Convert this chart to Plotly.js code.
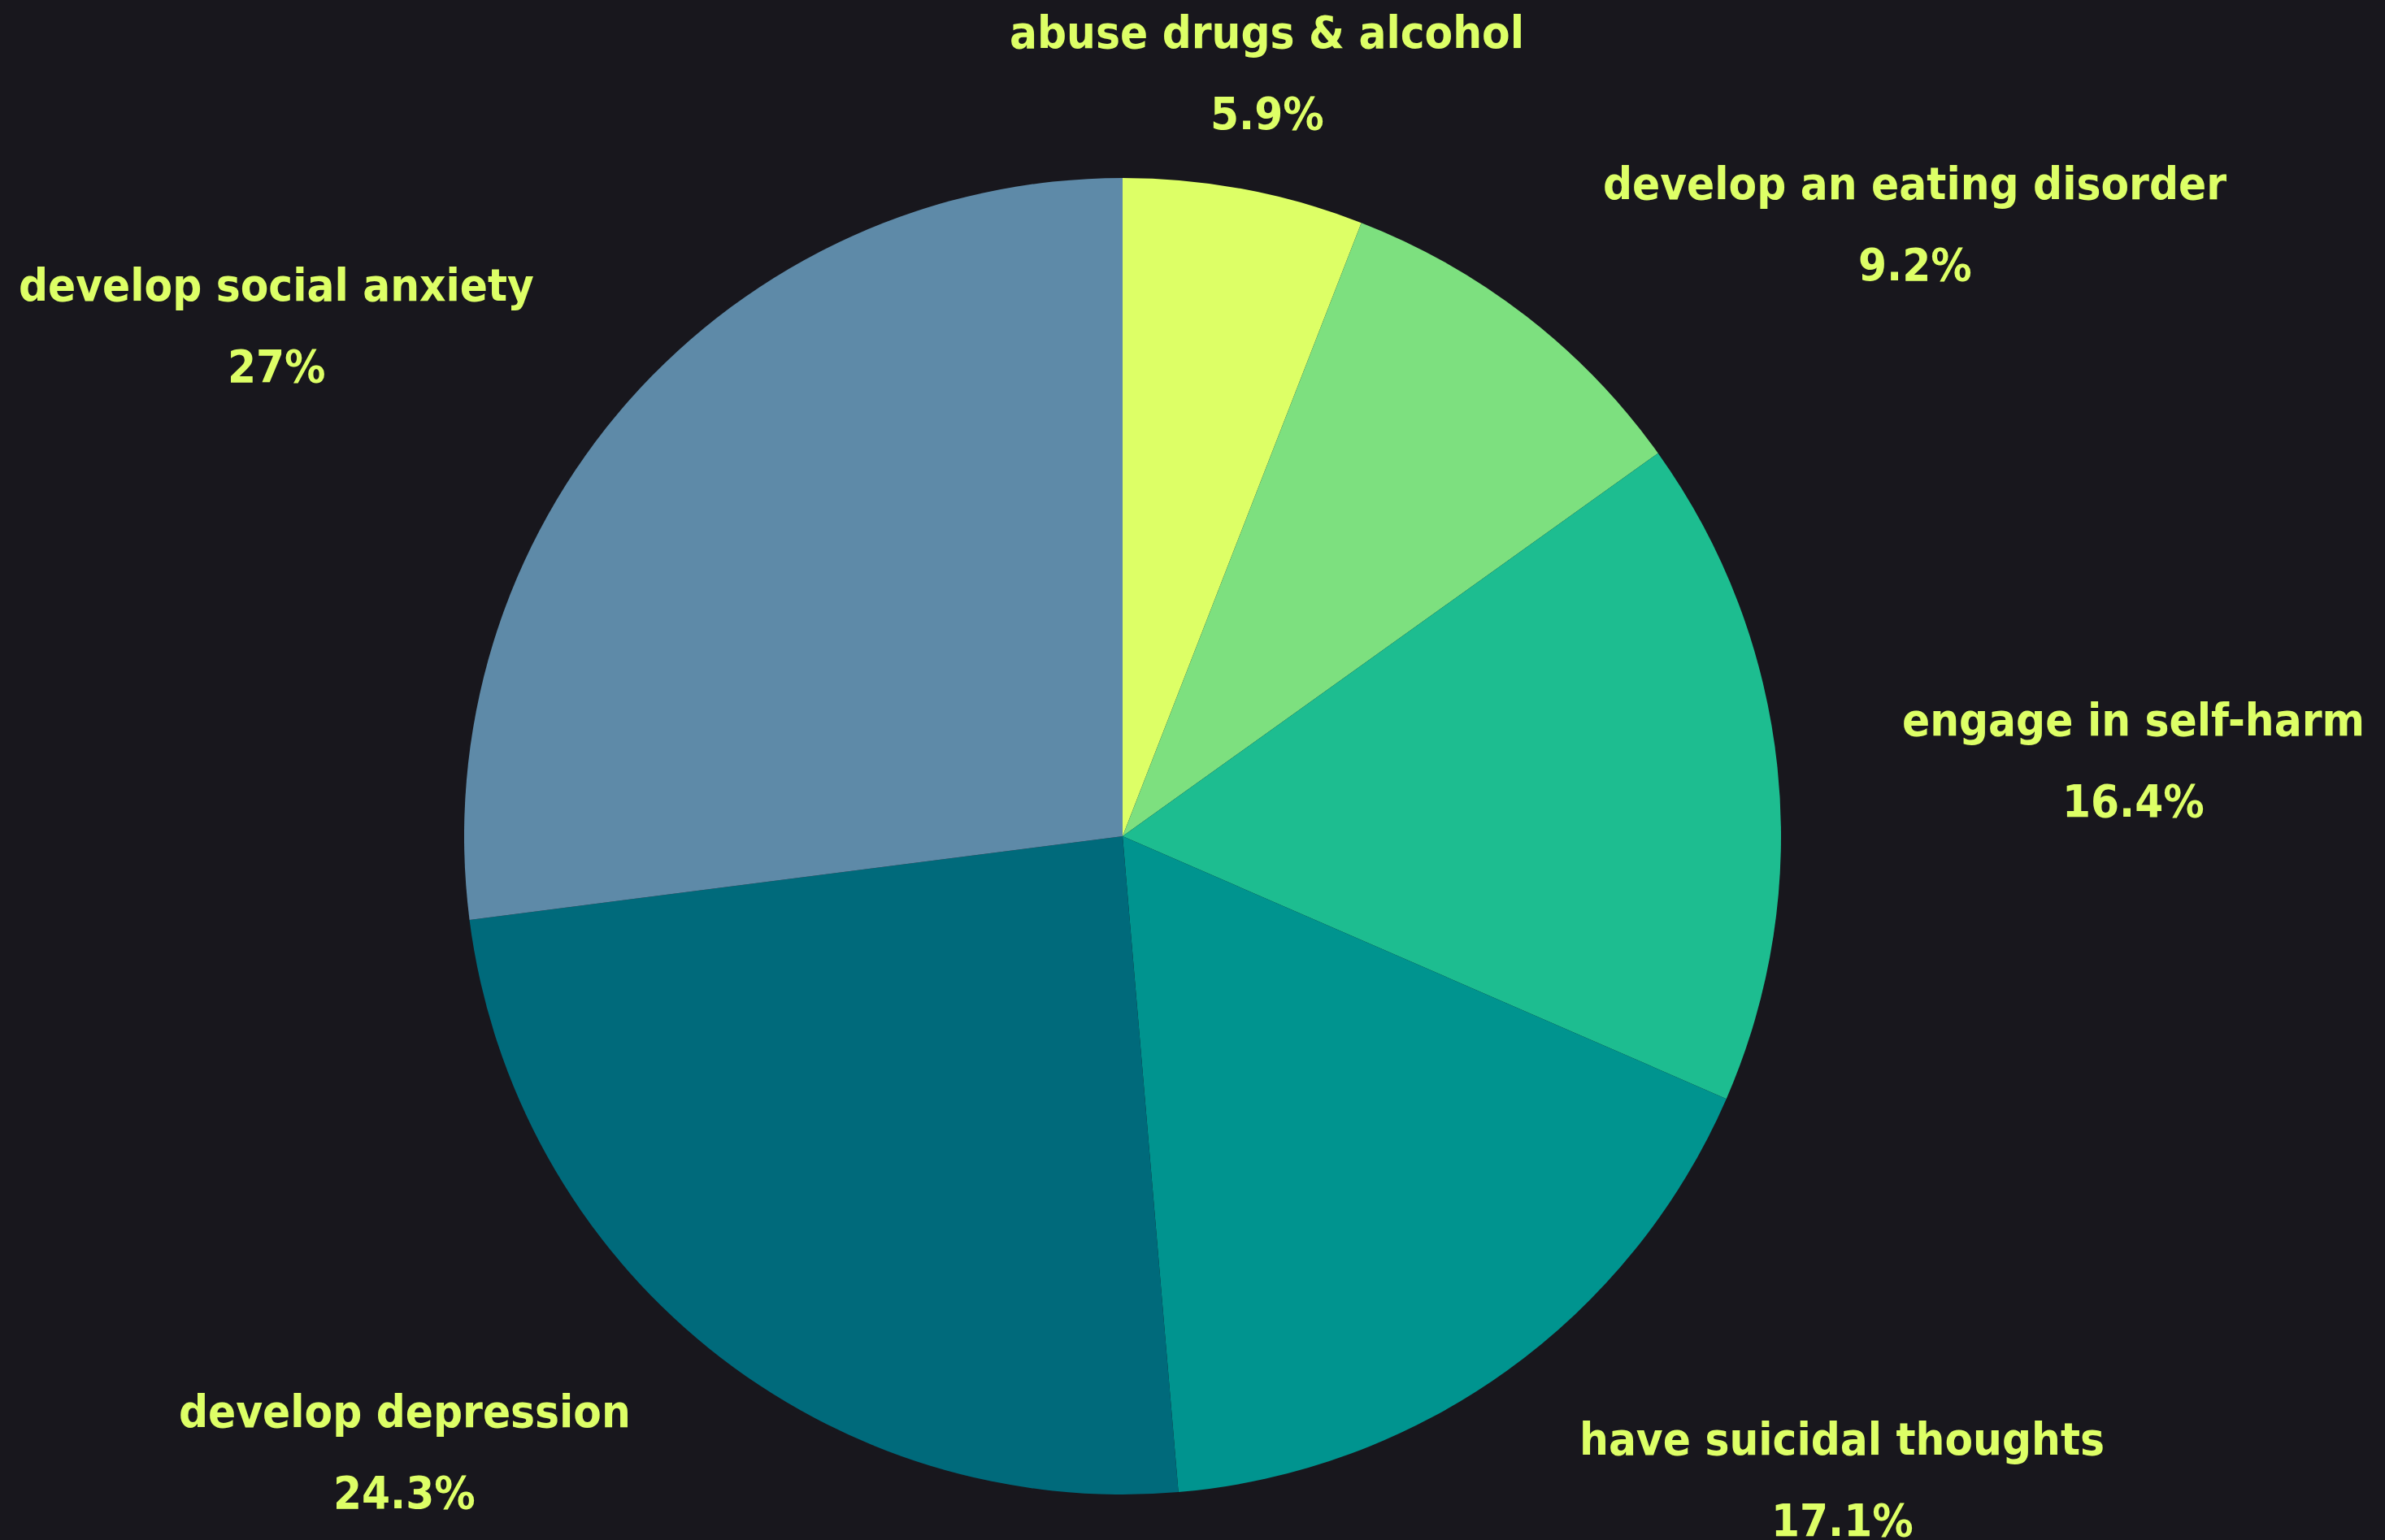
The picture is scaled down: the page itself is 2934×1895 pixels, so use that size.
<!DOCTYPE html>
<html>
<head>
<meta charset="utf-8">
<script src="https://cdn.plot.ly/plotly-3.0.1.min.js"></script>
<style>html,body{margin:0;padding:0;background:#18171d;}#chart{width:2934px;height:1895px;}</style>
</head>
<body>
<div id="chart"></div>
<script>
const labels = ["abuse drugs & alcohol", "develop an eating disorder", "engage in self-harm", "have suicidal thoughts", "develop depression", "develop social anxiety"];
const values = [5.9, 9.2, 16.4, 17.1, 24.3, 27];
const colors = ["#ddff66", "#7de07f", "#1dbd90", "#00948f", "#006a7b", "#5e8aa8"];

const W = 2934, H = 1895;
const cxPx = 1381, cyPx = 1029, rPx = 810;
const dom = {
  x: [(cxPx - rPx) / W, (cxPx + rPx) / W],
  y: [(H - cyPx - rPx) / H, (H - cyPx + rPx) / H]
};
const labelDist = 1.19;
const textDrop = 8;
const fontFamily = 'DejaVu Sans Condensed';
const fontSize = 56;
const lineGap = 100;
const font = {family: fontFamily + ', Roboto, sans-serif', size: fontSize, color: '#ddff66', weight: 'bold'};

const ctx = document.createElement('canvas').getContext('2d');
ctx.font = 'bold ' + fontSize + 'px "' + fontFamily + '"';

const total = values.reduce((a, b) => a + b, 0);
let cum = 0;
const annotations = [];
values.forEach((v, i) => {
  const mid = (cum + v / 2) / total * 2 * Math.PI;
  cum += v;
  const dx = Math.sin(mid), dy = Math.cos(mid);
  const ax = cxPx + dx * rPx * labelDist;
  const ay = (H - cyPx) + dy * rPx * labelDist - textDrop;
  const wLab = ctx.measureText(labels[i]).width;
  let centerX;
  if (Math.abs(dx) < 0.3) centerX = ax;
  else if (dx > 0) centerX = ax + wLab / 2;
  else centerX = ax - wLab / 2;
  annotations.push({
    xref: 'paper', yref: 'paper', x: centerX / W, y: (ay + lineGap / 2) / H,
    xanchor: 'center', yanchor: 'middle', showarrow: false,
    text: labels[i], font: font
  });
  annotations.push({
    xref: 'paper', yref: 'paper', x: centerX / W, y: (ay - lineGap / 2) / H,
    xanchor: 'center', yanchor: 'middle', showarrow: false,
    text: v + '%', font: font
  });
});

Plotly.newPlot('chart', [{
  type: 'pie',
  labels: labels,
  values: values,
  sort: false,
  direction: 'clockwise',
  rotation: 0,
  marker: {colors: colors, line: {width: 0}},
  textinfo: 'none',
  hoverinfo: 'skip',
  domain: dom
}], {
  width: W, height: H,
  paper_bgcolor: '#18171d',
  plot_bgcolor: '#18171d',
  margin: {l: 0, r: 0, t: 0, b: 0},
  showlegend: false,
  annotations: annotations
}, {staticPlot: true});
</script>
</body>
</html>
